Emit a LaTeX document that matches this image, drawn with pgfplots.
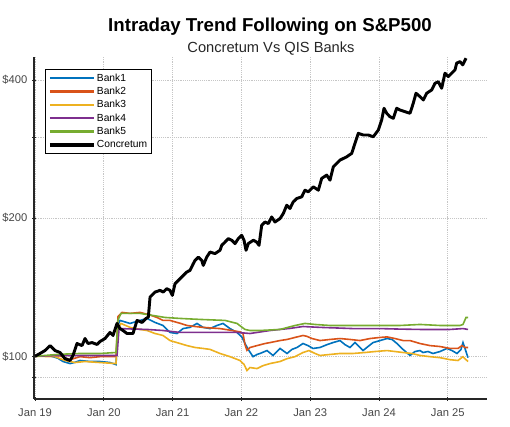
\documentclass[border=0pt]{standalone}
\usepackage{pgfplots}
\pgfplotsset{compat=1.18}
\usepackage{fontspec}
\setmainfont{Liberation Sans}
\definecolor{bA}{HTML}{0072BD}
\definecolor{bB}{HTML}{D95319}
\definecolor{bC}{HTML}{EDB120}
\definecolor{bD}{HTML}{7E2F8E}
\definecolor{bE}{HTML}{77AC30}
\definecolor{axc}{HTML}{262626}
\begin{document}
\begin{tikzpicture}
\path[use as bounding box] (0,0) rectangle (382.5pt,320.25pt);
\node[anchor=base,font=\fontsize{14}{16}\selectfont\bfseries] at (202.5pt,296.5pt) {Intraday Trend Following on S\&P500};
\node[anchor=base,font=\fontsize{11}{13}\selectfont,text=axc] at (203.25pt,281pt) {Concretum Vs QIS Banks};
\begin{axis}[
  at={(25.5pt,21pt)}, anchor=south west,
  scale only axis, width=339.75pt, height=256.5pt,
  ymode=log,
  xmin=-0.015, xmax=6.57,
  ymin=80.7, ymax=449,
  axis lines*=left,
  axis line style={axc, line width=0.8pt},
  xtick={0,1,2,3,4,5,6},
  xticklabels={Jan 19,Jan 20,Jan 21,Jan 22,Jan 23,Jan 24,Jan 25},
  ytick={90,100,200,300,400},
  yticklabels={,\$100,\$200,,\$400},
  log ticks with fixed point,
  /pgf/number format/assume math mode=true,
  tick align=center,
  major tick length=3pt,
  tick style={axc, line width=0.7pt},
  ticklabel style={font=\fontsize{8.4}{10}\selectfont, text=axc!85},
  xticklabel style={yshift=-2.5pt},
  grid=major,
  major grid style={densely dotted, gray!45, line width=0.6pt},
  legend cell align=left,
  legend style={at={(0.024,0.965)}, anchor=north west, draw=black, line width=0.7pt, fill=white,
    font=\fontsize{7.7}{9}\selectfont, inner xsep=2pt, inner ysep=1.6pt,
    nodes={inner sep=1pt, text height=6.2pt, text depth=1.8pt}, row sep=0pt},
  legend image code/.code={\draw[#1] (0pt,0pt) -- (33pt,0pt);},
  every legend image post/.style={line width=1.6pt},
]
\addplot[bA, line width=1.2pt] coordinates {
(0,100)(0.218,100.2)(0.334,99.0)(0.407,97.4)(0.509,96.4)(0.581,97.0)(0.654,97.9)(0.799,97.4)(0.945,97.4)(1.090,96.9)(1.177,95.9)
(1.206,117.0)(1.235,119.7)(1.381,117.9)(1.526,119.7)(1.628,120.9)(1.744,118.5)(1.860,116.7)(1.962,112.7)(2.064,112.1)(2.151,114.9)
(2.253,115.6)(2.355,117.9)(2.442,115.6)(2.544,114.9)(2.645,116.7)(2.733,117.9)(2.834,114.9)(2.936,112.7)(3.009,110.0)(3.052,106.6)
(3.110,102.9)(3.169,99.8)(3.227,100.9)(3.270,101.4)(3.372,102.9)(3.459,100.4)(3.561,104.0)(3.663,101.4)(3.735,103.5)(3.808,104.5)
(3.895,106.6)(3.968,105.5)(4.041,104.0)(4.142,104.5)(4.244,106.0)(4.331,107.1)(4.433,108.2)(4.506,106.0)(4.578,104.5)(4.651,107.1)
(4.767,102.9)(4.840,105.0)(4.913,107.1)(5.015,108.2)(5.116,109.3)(5.189,108.8)(5.262,106.6)(5.349,103.5)(5.451,100.4)(5.523,102.4)
(5.596,102.9)(5.640,101.9)(5.712,102.4)(5.785,101.4)(5.887,102.4)(5.988,104.0)(6.061,102.9)(6.134,101.4)(6.192,103.5)(6.221,107.1)
(6.250,104.0)(6.294,99.3)};
\addlegendentry{Bank1}
\addplot[bB, line width=1.2pt] coordinates {
(0,100)(0.363,100.2)(0.509,98.3)(0.654,99.8)(0.799,99.3)(0.945,99.8)(1.177,99.8)
(1.206,122.0)(1.265,124.6)(1.381,124.0)(1.526,124.6)(1.672,123.0)(1.773,121.5)(1.860,119.7)(1.962,119.7)(2.108,118.0)(2.209,116.7)
(2.326,116.1)(2.442,115.6)(2.544,115.3)(2.689,114.9)(2.834,114.0)(2.980,113.0)(3.023,112.1)(3.052,106.0)(3.081,103.0)(3.125,104.5)
(3.227,105.5)(3.343,106.6)(3.416,107.1)(3.561,108.2)(3.663,108.8)(3.779,109.9)(3.895,111.0)(3.953,110.5)(4.026,109.3)(4.142,108.2)
(4.288,108.8)(4.433,109.3)(4.578,108.8)(4.724,108.2)(4.869,109.3)(5.015,109.9)(5.116,110.2)(5.233,109.3)(5.349,108.2)(5.451,108.2)
(5.596,106.6)(5.741,105.5)(5.887,105.0)(6.032,104.0)(6.148,104.0)(6.206,105.5)(6.250,104.5)(6.294,104.5)};
\addlegendentry{Bank2}
\addplot[bC, line width=1.2pt] coordinates {
(0,100)(0.291,99.8)(0.436,97.9)(0.581,96.9)(0.727,97.4)(0.945,96.9)(1.177,96.4)
(1.206,115.0)(1.250,117.9)(1.381,115.6)(1.526,114.4)(1.628,113.8)(1.744,112.1)(1.860,111.0)(1.962,108.2)(2.108,106.6)(2.209,105.5)
(2.326,104.5)(2.442,104.0)(2.544,103.5)(2.689,101.4)(2.834,99.8)(2.980,97.9)(3.038,96.0)(3.081,93.1)(3.125,94.5)(3.227,94.0)
(3.314,95.4)(3.416,96.4)(3.561,97.4)(3.663,98.8)(3.779,99.8)(3.895,101.9)(3.983,102.9)(4.070,101.4)(4.142,100.4)(4.288,100.9)
(4.433,101.4)(4.622,101.4)(4.797,101.9)(4.942,102.4)(5.116,102.9)(5.233,102.4)(5.349,101.9)(5.480,101.4)(5.596,100.4)(5.741,99.8)
(5.887,99.3)(6.032,98.3)(6.148,97.9)(6.221,99.8)(6.265,98.3)(6.294,97.4)};
\addlegendentry{Bank3}
\addplot[bD, line width=1.2pt] coordinates {
(0,100)(0.363,100.4)(1.192,100.4)(1.221,114.9)(1.628,114.4)(1.860,113.8)(2.108,112.7)(2.398,112.7)(2.936,112.7)(3.125,112.1)
(3.416,113.8)(3.706,115.0)(3.895,116.1)(4.142,115.6)(4.622,114.9)(5.015,114.9)(5.305,114.6)(5.596,114.4)(6.032,114.4)(6.221,114.9)(6.294,114.4)};
\addlegendentry{Bank4}
\addplot[bE, line width=1.2pt] coordinates {
(0,100)(0.363,101.0)(0.654,101.4)(0.945,101.4)(1.177,101.9)(1.206,120.0)(1.250,124.0)(1.526,124.0)(1.672,123.0)(1.890,121.5)
(2.108,120.9)(2.398,120.3)(2.762,119.7)(2.936,117.9)(3.052,114.4)(3.125,113.8)(3.270,113.8)(3.561,114.4)(3.779,116.7)(3.924,117.9)
(4.070,117.3)(4.288,116.7)(4.761,116.7)(5.305,116.7)(5.596,117.3)(5.887,116.7)(6.177,116.7)(6.221,117.3)(6.265,121.5)(6.294,121.5)};
\addlegendentry{Bank5}
\addplot[black, line width=2.2pt, line join=round, legend image post style={line width=2.7pt}] coordinates {
(0,100)(0.073,101.4)(0.145,102.9)(0.218,105.5)(0.291,102.9)(0.363,101.9)(0.436,98.8)(0.509,97.9)(0.552,100.4)(0.610,106.6)
(0.683,105.5)(0.727,109.3)(0.770,106.6)(0.828,107.1)(0.901,106.1)(0.945,107.7)(1.017,109.3)(1.090,112.7)(1.134,111.0)(1.192,117.9)
(1.235,114.9)(1.279,113.8)(1.337,112.1)(1.424,112.1)(1.483,119.7)(1.555,118.5)(1.613,120.9)(1.647,121.7)(1.672,134.6)(1.744,138.0)
(1.817,139.2)(1.865,138.0)(1.914,140.4)(1.962,139.2)(1.996,135.7)(2.035,143.9)(2.083,146.3)(2.156,150.1)(2.205,152.6)(2.253,153.9)
(2.301,159.2)(2.326,161.8)(2.374,164.5)(2.423,161.8)(2.446,157.8)(2.496,164.5)(2.544,168.7)(2.616,167.4)(2.689,170.2)(2.714,174.5)
(2.762,177.4)(2.810,180.5)(2.859,179.0)(2.907,176.0)(2.955,180.5)(3.004,183.5)(3.038,179.0)(3.067,170.2)(3.100,176.0)(3.173,179.0)
(3.222,177.4)(3.256,174.5)(3.295,193.0)(3.343,196.2)(3.391,194.6)(3.440,201.2)(3.488,196.2)(3.561,199.6)(3.609,204.7)(3.659,213.4)
(3.706,209.9)(3.754,217.0)(3.804,220.7)(3.876,222.5)(3.924,230.1)(3.972,228.2)(4.045,234.0)(4.118,230.1)(4.167,244.1)(4.240,248.2)
(4.288,242.0)(4.336,258.8)(4.433,267.6)(4.531,272.1)(4.603,276.8)(4.651,291.1)(4.699,306.1)(4.772,303.5)(4.844,303.5)(4.917,300.9)
(4.990,311.2)(5.039,327.3)(5.073,347.1)(5.112,338.5)(5.160,332.7)(5.208,330.1)(5.257,347.1)(5.305,344.1)(5.378,341.2)(5.451,338.5)
(5.498,356.0)(5.538,374.3)(5.596,368.0)(5.644,361.9)(5.693,374.3)(5.766,380.6)(5.814,393.6)(5.862,396.8)(5.911,383.8)(5.959,413.9)
(6.007,406.9)(6.057,413.9)(6.105,420.9)(6.129,435.3)(6.177,438.8)(6.217,431.6)(6.265,446.3)};
\addlegendentry{Concretum}
\end{axis}
\end{tikzpicture}
\end{document}
